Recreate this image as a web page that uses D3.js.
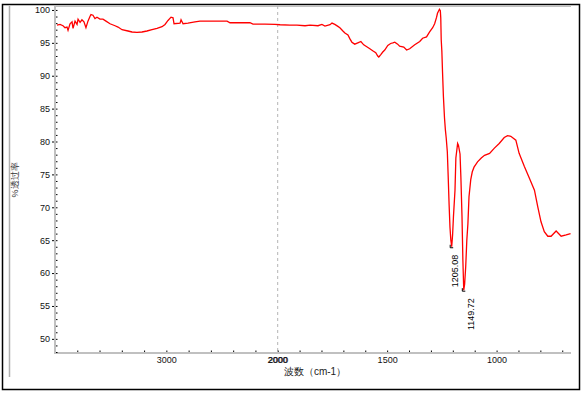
<!DOCTYPE html>
<html>
<head>
<meta charset="utf-8">
<script src="https://cdn.jsdelivr.net/npm/d3@7.9.0/dist/d3.min.js"></script>
<style>
  html, body { margin: 0; padding: 0; background: #fff; }
  svg { display: block; }
  text { font-family: "Liberation Sans", Arial, sans-serif; }
</style>
</head>
<body>
<svg id="chart" width="584" height="395"></svg>
<script>
// wavenumber (cm-1) and %T
const wavenumbers = [
  3982, 3955, 3928, 3910, 3892, 3883, 3865, 3847, 3838, 3820, 3802, 3793, 3775, 3758,
  3740, 3722, 3704, 3686, 3677, 3659, 3641, 3623, 3596, 3569, 3542, 3506, 3461, 3434,
  3398, 3344, 3308, 3264, 3219, 3174, 3129, 3084, 3039, 3012, 2985, 2958, 2940, 2931,
  2877, 2868, 2850, 2806, 2743, 2698, 2608, 2455, 2428, 2339, 2249, 2222, 2114, 2024,
  1989, 1944, 1912, 1875, 1852, 1816, 1798, 1784, 1761, 1752, 1739, 1725, 1716, 1702,
  1693, 1679, 1670, 1661, 1648, 1634, 1620, 1607, 1593, 1579, 1566, 1552, 1543, 1538,
  1529, 1520, 1511, 1497, 1484, 1474, 1465, 1452, 1443, 1424, 1411, 1397, 1374, 1351,
  1338, 1320, 1306, 1292, 1283, 1274, 1270, 1261, 1257, 1255, 1253, 1250, 1247, 1243,
  1238, 1234, 1230, 1225, 1221, 1217, 1213, 1209, 1205, 1201, 1197, 1190, 1186, 1178,
  1174, 1167, 1163, 1158, 1154, 1150, 1146, 1141, 1136, 1131, 1126, 1118, 1111, 1103,
  1087, 1070, 1055, 1032, 1010, 988, 965, 950, 935, 912, 897, 873, 850, 827,
  812, 797, 782, 766, 751, 728, 705, 682, 662
];
const transmittance = [
  97.7, 97.8, 97.6, 97.3, 97.4, 96.9, 97.9, 98.2, 97.2, 98.3, 97.8, 98.6, 98.1, 98.5,
  98.2, 97.3, 98.3, 99.0, 99.3, 99.2, 98.7, 98.9, 98.6, 98.6, 98.3, 97.9, 97.6, 97.4,
  97.0, 96.8, 96.65, 96.6, 96.65, 96.8, 97.0, 97.2, 97.45, 97.8, 98.4, 98.9, 98.8, 97.9,
  98.0, 98.5, 97.9, 98.0, 98.2, 98.3, 98.3, 98.3, 98.05, 98.05, 98.05, 97.85, 97.85, 97.8,
  97.75, 97.7, 97.7, 97.6, 97.7, 97.6, 97.8, 97.55, 97.75, 98.0, 97.8, 97.5, 97.3, 96.8,
  96.5, 96.2, 95.6, 95.1, 94.8, 95.0, 95.2, 94.7, 94.4, 94.1, 93.8, 93.5, 93.0, 92.85,
  93.2, 93.6, 93.9, 94.6, 94.9, 95.0, 95.1, 94.8, 94.5, 94.35, 93.9, 94.1, 94.7, 95.2,
  95.7, 95.9, 96.65, 97.3, 97.9, 98.9, 99.5, 100.1, 99.9, 98.8, 95.5, 93.7, 90.6, 86.9,
  83.6, 81.8, 80.5, 78.4, 74.6, 70.5, 67.0, 65.0, 64.0, 65.8, 68.6, 72.6, 77.5, 79.7,
  79.4, 78.1, 74.5, 68.6, 62.0, 57.4, 58.3, 61.0, 65.0, 67.5, 71.6, 74.2, 75.4, 76.1,
  76.9, 77.5, 77.9, 78.2, 79.0, 79.7, 80.6, 80.9, 80.8, 80.2, 78.2, 76.2, 74.4, 72.6,
  70.1, 67.8, 66.3, 65.6, 65.6, 66.4, 65.6, 65.8, 66.0
];

const peakWavenumbers = [1205.08, 1149.72];
const peakValues = [64.0, 57.4];

const xLabels = [3000, 2000, 1500, 1000];
const yLabels = [50, 55, 60, 65, 70, 75, 80, 85, 90, 95, 100];

const svg = d3.select('#chart');

const plotLeft = 55, plotRight = 571, plotTop = 6, plotBottom = 353;

// spectrum x axis: compressed above 2000 cm-1
const x = d3.scaleLinear().domain([4000, 2000, 660]).range([plotLeft, 277.7, plotRight]);
const y = d3.scaleLinear().domain([47.85, 100.6]).range([plotBottom, plotTop]);

const labelFont = '"Liberation Sans", Arial, sans-serif';

// outer frame
svg.append('rect')
  .attr('x', 2.5).attr('y', 4.5).attr('width', 577).attr('height', 385)
  .attr('fill', 'none').attr('stroke', '#000').attr('stroke-width', 1.5);
svg.append('line')
  .attr('x1', 9.5).attr('x2', 9.5).attr('y1', 6).attr('y2', 377)
  .attr('stroke', '#b0b0b0').attr('stroke-width', 1.5);

// plot box (left, top, bottom in gray)
svg.append('path')
  .attr('d', `M${plotRight},${plotTop}H${plotLeft}V${plotBottom}H${plotRight}`)
  .attr('fill', 'none').attr('stroke', '#c0c0c0').attr('stroke-width', 2);

// dashed divider at 2000
svg.append('line')
  .attr('x1', x(2000)).attr('x2', x(2000)).attr('y1', plotTop).attr('y2', plotBottom)
  .attr('stroke', '#b4b4b4').attr('stroke-dasharray', '3,3');

// minor ticks
const xMinor = d3.range(3800, 2000, -200).concat(d3.range(2000, 650, -100));
svg.append('g')
  .attr('transform', `translate(0,${plotBottom - 1})`)
  .call(d3.axisTop(x).tickValues(xMinor).tickSize(1.5).tickFormat(''))
  .call(g => g.select('.domain').remove())
  .call(g => g.selectAll('line').attr('stroke', '#000'));

const yMinor = d3.range(48, 101, 1);
svg.append('g')
  .attr('transform', `translate(${plotLeft + 1},0)`)
  .call(d3.axisRight(y).tickValues(yMinor).tickSize(1.5).tickFormat(''))
  .call(g => g.select('.domain').remove())
  .call(g => g.selectAll('line').attr('stroke', '#000'));

// y axis labels
svg.append('g')
  .attr('transform', `translate(${plotLeft - 1},0)`)
  .call(d3.axisLeft(y).tickValues(yLabels).tickSize(2).tickPadding(2).tickFormat(d3.format('d')))
  .call(g => g.select('.domain').remove())
  .call(g => g.selectAll('line').attr('stroke', '#000'))
  .call(g => g.selectAll('text').attr('font-size', 9).attr('fill', '#111')
    .attr('font-family', labelFont));

// x axis labels (2000 is drawn by both halves of the axis)
svg.append('g')
  .attr('transform', `translate(0,${plotBottom + 1})`)
  .call(d3.axisBottom(x).tickValues(xLabels).tickSize(0).tickPadding(3).tickFormat(d3.format('d')))
  .call(g => g.select('.domain').remove())
  .call(g => g.selectAll('text').attr('font-size', 9).attr('fill', '#111')
    .attr('font-family', labelFont));
svg.append('g')
  .attr('transform', `translate(-0.6,${plotBottom + 1})`)
  .call(d3.axisBottom(x).tickValues([2000]).tickSize(0).tickPadding(3).tickFormat(d3.format('d')))
  .call(g => g.select('.domain').remove())
  .call(g => g.selectAll('text').attr('font-size', 9).attr('fill', '#111')
    .attr('font-family', labelFont));

svg.append('text')
  .attr('x', 315).attr('y', 375)
  .attr('text-anchor', 'middle')
  .attr('font-size', 10)
  .attr('font-family', '"Noto Sans CJK SC", sans-serif')
  .attr('fill', '#222')
  .text('波数（cm-1）');

svg.append('text')
  .attr('transform', 'translate(18,180) rotate(-90)')
  .attr('text-anchor', 'middle')
  .attr('font-size', 9)
  .attr('font-family', '"Noto Sans CJK SC", sans-serif')
  .attr('fill', '#333')
  .text('%透过率');

// spectrum
const points = wavenumbers.map((w, i) => [w, transmittance[i]]);
svg.append('path')
  .datum(points)
  .attr('d', d3.line().x(d => x(d[0])).y(d => y(d[1])))
  .attr('fill', 'none')
  .attr('stroke', '#ff0000')
  .attr('stroke-width', 1.3);

// peak labels
const labelShift = [6.5, 10.5];
peakWavenumbers.forEach((w, i) => {
  const px = x(w), py = y(peakValues[i]);
  svg.append('path')
    .attr('d', `M${px - 1.5},${py - 2}V${py + 1}H${px + 1.5}`)
    .attr('fill', 'none').attr('stroke', '#000').attr('stroke-width', 1);
  svg.append('text')
    .attr('transform', `translate(${px + labelShift[i]},${py + 8}) rotate(-90)`)
    .attr('text-anchor', 'end')
    .attr('font-size', 9)
    .attr('fill', '#000')
    .text(d3.format('.2f')(w));
});
</script>
</body>
</html>
